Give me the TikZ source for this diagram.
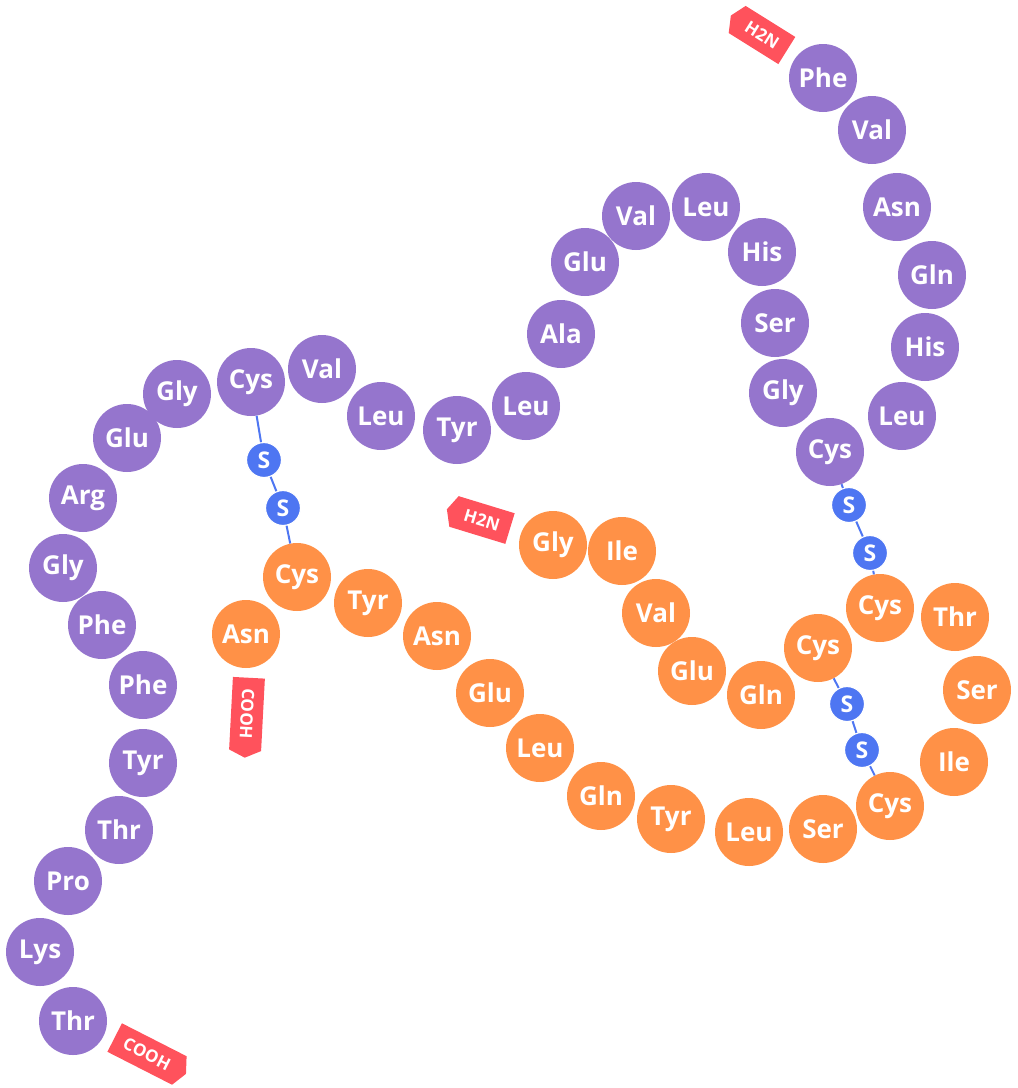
\documentclass[tikz,border=0pt]{standalone}
\usepackage{fontspec}
\setmainfont{Open Sans}
\usetikzlibrary{shapes.symbols}
\definecolor{chainb}{RGB}{149,117,205}
\definecolor{chaina}{RGB}{255,145,71}
\definecolor{sblue}{RGB}{78,118,242}
\definecolor{tagred}{RGB}{255,82,92}
\tikzset{
  amino/.style={circle, fill=#1, text=white, minimum size=68pt, inner sep=0pt,
    font=\fontsize{26}{30}\selectfont\bfseries},
  sulfur/.style={circle, fill=sblue, draw=white, line width=1.2pt, text=white,
    minimum size=35pt, inner sep=0pt, font=\fontsize{23}{26}\selectfont\bfseries},
  endtag/.style={signal, signal to=#1, signal pointer angle=130, fill=tagred,
    text=white, minimum height=32pt, inner xsep=11pt, inner ysep=0pt,
    font=\fontsize{17}{20}\selectfont\bfseries},
  bond/.style={sblue, line width=2pt}
}
\begin{document}
\begin{tikzpicture}[x=1pt, y=-1pt]
  \useasboundingbox (0,0) rectangle (1018,1088);

  \node[endtag=west, rotate=-32] (bnterm) at (762,35) {H2N};
  \node[amino=chainb] (bphe1) at (823,78) {Phe};
  \node[amino=chainb] (bval2) at (872,130) {Val};
  \node[amino=chainb] (basn3) at (897,207) {Asn};
  \node[amino=chainb] (bgln4) at (932,275) {Gln};
  \node[amino=chainb] (bhis5) at (925,347) {His};
  \node[amino=chainb] (bleu6) at (902,416) {Leu};
  \node[amino=chainb] (bcys7) at (830,452) {Cys};
  \node[amino=chainb] (bgly8) at (783,393) {Gly};
  \node[amino=chainb] (bser9) at (775,323) {Ser};
  \node[amino=chainb] (bhis10) at (762,252) {His};
  \node[amino=chainb] (bleu11) at (706,207) {Leu};
  \node[amino=chainb] (bval12) at (636,216) {Val};
  \node[amino=chainb] (bglu13) at (585,262) {Glu};
  \node[amino=chainb] (bala14) at (561,334) {Ala};
  \node[amino=chainb] (bleu15) at (526,406) {Leu};
  \node[amino=chainb] (btyr16) at (457,430) {Tyr};
  \node[amino=chainb] (bleu17) at (381,416) {Leu};
  \node[amino=chainb] (bval18) at (322,369) {Val};
  \node[amino=chainb] (bcys19) at (251,382) {Cys};
  \node[amino=chainb] (bgly20) at (177,394) {Gly};
  \node[amino=chainb] (bglu21) at (127,438) {Glu};
  \node[amino=chainb] (barg22) at (83,498) {Arg};
  \node[amino=chainb] (bgly23) at (63,568) {Gly};
  \node[amino=chainb] (bphe24) at (102,625) {Phe};
  \node[amino=chainb] (bphe25) at (143,685) {Phe};
  \node[amino=chainb] (btyr26) at (143,763) {Tyr};
  \node[amino=chainb] (bthr27) at (119,830) {Thr};
  \node[amino=chainb] (bpro28) at (68,881) {Pro};
  \node[amino=chainb] (blys29) at (40,952) {Lys};
  \node[amino=chainb] (bthr30) at (73,1021) {Thr};
  \node[endtag=east, rotate=-27] (bcterm) at (147,1054) {COOH};

  \node[endtag=west, rotate=-17] (anterm) at (482,520) {H2N};
  \node[amino=chaina] (agly1) at (553,545) {Gly};
  \node[amino=chaina] (aile2) at (622,551) {Ile};
  \node[amino=chaina] (aval3) at (656,613) {Val};
  \node[amino=chaina] (aglu4) at (692,671) {Glu};
  \node[amino=chaina] (agln5) at (761,695) {Gln};
  \node[amino=chaina] (acys6) at (818,648) {Cys};
  \node[amino=chaina] (acys7) at (880,608) {Cys};
  \node[amino=chaina] (athr8) at (955,617) {Thr};
  \node[amino=chaina] (aser9) at (977,690) {Ser};
  \node[amino=chaina] (aile10) at (954,762) {Ile};
  \node[amino=chaina] (acys11) at (890,806) {Cys};
  \node[amino=chaina] (aser12) at (823,829) {Ser};
  \node[amino=chaina] (aleu13) at (749,832) {Leu};
  \node[amino=chaina] (atyr14) at (671,819) {Tyr};
  \node[amino=chaina] (agln15) at (601,796) {Gln};
  \node[amino=chaina] (aleu16) at (540,748) {Leu};
  \node[amino=chaina] (aglu17) at (490,693) {Glu};
  \node[amino=chaina] (aasn18) at (437,636) {Asn};
  \node[amino=chaina] (atyr19) at (368,603) {Tyr};
  \node[amino=chaina] (acys20) at (297,577) {Cys};
  \node[amino=chaina] (aasn21) at (246,634) {Asn};
  \node[endtag=east, rotate=-93] (acterm) at (247,714) {COOH};

  \node[sulfur] (sleft1) at (264,460) {S};
  \node[sulfur] (sleft2) at (283,508) {S};
  \node[sulfur] (sright1) at (849,505) {S};
  \node[sulfur] (sright2) at (870,553) {S};
  \node[sulfur] (sinner1) at (847,704) {S};
  \node[sulfur] (sinner2) at (862,750) {S};

  \draw[bond] (bcys19) -- (sleft1) -- (sleft2) -- (acys20);
  \draw[bond] (bcys7) -- (sright1) -- (sright2) -- (acys7);
  \draw[bond] (acys6) -- (sinner1) -- (sinner2) -- (acys11);
\end{tikzpicture}
\end{document}
